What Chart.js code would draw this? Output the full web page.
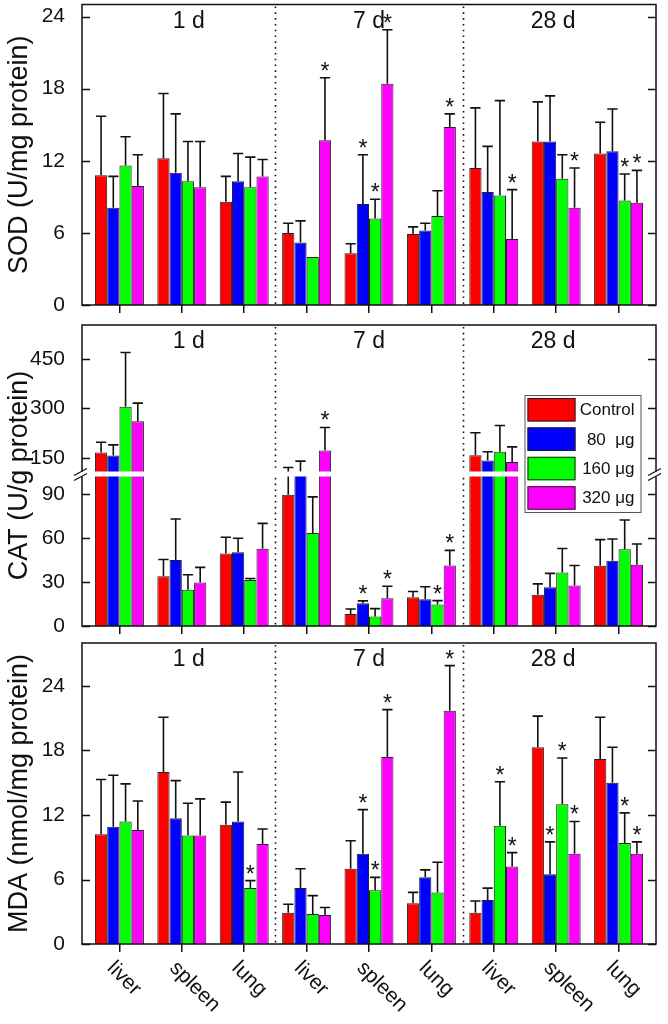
<!DOCTYPE html>
<html>
<head>
<meta charset="utf-8">
<title>SOD, CAT and MDA in liver, spleen and lung</title>
<script src="https://cdn.jsdelivr.net/npm/chart.js@4.4.1/dist/chart.umd.min.js"></script>
<style>
  html, body { margin: 0; padding: 0; background: #fff; }
  #wrap { position: relative; width: 668px; height: 1024px; overflow: hidden; }
  #wrap canvas { position: absolute; left: 0; }
</style>
</head>
<body>
<div id="wrap">
  <canvas id="sod" width="668" height="325" style="top:-10px"></canvas>
  <canvas id="cat" width="668" height="326" style="top:310px"></canvas>
  <canvas id="mda" width="668" height="396" style="top:628px"></canvas>
</div>
<script>
'use strict';

// ---- data ----
const CATEGORIES = ['liver', 'spleen', 'lung', 'liver', 'spleen', 'lung', 'liver', 'spleen', 'lung'];
const PERIODS = ['1 d', '7 d', '28 d'];
const SERIES = ['Control', '80  \u03bcg', '160 \u03bcg', '320 \u03bcg'];

// SOD (U/mg protein): means and upper error (SD) per series
const SOD_CONTROL = [10.8, 12.2, 8.6, 6.0, 4.3, 5.9, 11.4, 13.6, 12.6];
const SOD_80 = [8.1, 11.0, 10.3, 5.2, 8.4, 6.2, 9.4, 13.6, 12.8];
const SOD_160 = [11.6, 10.3, 9.8, 4.0, 7.2, 7.4, 9.1, 10.5, 8.7];
const SOD_320 = [9.9, 9.8, 10.7, 13.7, 18.4, 14.8, 5.5, 8.1, 8.5];
const SOD_ERR_CONTROL = [4.9, 5.4, 2.1, 0.8, 0.8, 0.6, 5.0, 3.3, 2.6];
const SOD_ERR_80 = [2.6, 4.9, 2.3, 1.8, 4.1, 0.6, 3.8, 3.8, 3.5];
const SOD_ERR_160 = [2.4, 3.3, 2.5, 0, 1.6, 2.1, 7.9, 2.0, 2.2];
const SOD_ERR_320 = [2.6, 3.8, 1.4, 5.2, 4.5, 1.1, 4.1, 3.3, 2.7];
const SOD_SIG_CONTROL = [0, 0, 0, 0, 0, 0, 0, 0, 0];
const SOD_SIG_80 = [0, 0, 0, 0, 1, 0, 0, 0, 0];
const SOD_SIG_160 = [0, 0, 0, 0, 1, 0, 0, 0, 1];
const SOD_SIG_320 = [0, 0, 0, 1, 1, 1, 1, 1, 1];

// CAT (U/g protein)
const CAT_CONTROL = [167, 33.9, 49.4, 89.3, 8.2, 19.6, 159, 21.2, 41.0];
const CAT_80 = [158, 44.9, 50.3, 108.7, 15.5, 18.2, 143, 26.4, 44.4];
const CAT_160 = [305, 24.6, 31.4, 63.3, 6.4, 14.6, 169, 36.4, 52.2];
const CAT_320 = [261, 29.6, 52.6, 173, 18.9, 41.2, 138, 27.6, 41.7];
const CAT_ERR_CONTROL = [31, 11.4, 11.0, 32.5, 3.4, 3.9, 67.5, 7.5, 17.8];
const CAT_ERR_80 = [32, 28.0, 9.4, 32.3, 1.6, 8.5, 26, 9.4, 14.8];
const CAT_ERR_160 = [164, 10.3, 0.9, 24.6, 5.4, 2.7, 79.7, 16.4, 20.0];
const CAT_ERR_320 = [55, 10.3, 17.3, 69.6, 8.2, 10.3, 46, 13.6, 14.1];
const CAT_SIG_CONTROL = [0, 0, 0, 0, 0, 0, 0, 0, 0];
const CAT_SIG_80 = [0, 0, 0, 0, 1, 0, 0, 0, 0];
const CAT_SIG_160 = [0, 0, 0, 0, 0, 1, 0, 0, 0];
const CAT_SIG_320 = [0, 0, 0, 1, 1, 1, 0, 0, 0];

// MDA (nmol/mg protein)
const MDA_CONTROL = [10.2, 16.0, 11.1, 2.9, 7.0, 3.8, 2.9, 18.3, 17.2];
const MDA_80 = [10.9, 11.7, 11.4, 5.2, 8.4, 6.2, 4.1, 6.5, 15.0];
const MDA_160 = [11.4, 10.1, 5.2, 2.8, 5.0, 4.8, 11.0, 13.0, 9.4];
const MDA_320 = [10.6, 10.1, 9.3, 2.7, 17.4, 21.7, 7.2, 8.4, 8.4];
const MDA_ERR_CONTROL = [5.1, 5.1, 2.1, 0.8, 2.6, 1.0, 1.1, 2.9, 3.9];
const MDA_ERR_80 = [4.8, 3.5, 4.6, 1.8, 4.1, 0.7, 1.1, 3.0, 3.3];
const MDA_ERR_160 = [3.5, 3.0, 0.7, 1.7, 1.2, 2.8, 4.1, 4.3, 2.8];
const MDA_ERR_320 = [2.7, 3.4, 1.4, 0.7, 4.4, 4.2, 1.3, 3.0, 1.1];
const MDA_SIG_CONTROL = [0, 0, 0, 0, 0, 0, 0, 0, 0];
const MDA_SIG_80 = [0, 0, 0, 0, 1, 0, 0, 1, 0];
const MDA_SIG_160 = [0, 0, 1, 0, 1, 0, 1, 1, 1];
const MDA_SIG_320 = [0, 0, 0, 0, 1, 1, 1, 1, 1];

// axis ticks
const SOD_TICKS = [0, 6, 12, 18, 24];
const CAT_TICKS_LOW = [0, 30, 60, 90];
const CAT_TICKS_HIGH = [150, 300, 450];
const MDA_TICKS = [0, 6, 12, 18, 24];

// ---- styling ----
const FONT = "'Liberation Sans', Arial, Helvetica, sans-serif";
const INK = '#111111';
const COLORS = ['#FF0000', '#0000FF', '#00FF00', '#FF00FF'];
const BAR_EDGE = '#222222';
const Y_AXIS_WIDTH = 82;

/**
 * Draws everything Chart.js has no built-in for: the box frame, inward ticks,
 * error bars, significance stars, period separators, axis break and legend.
 */
const panelDecor = {
  id: 'panelDecor',
  afterDraw(chart, args, opts) {
    const { ctx, chartArea: area } = chart;
    const xs = chart.scales.x;
    // y segments sorted from the lowest value range up
    const yAxes = opts.axisIds.map((id) => chart.scales[id]).sort((a, b) => a.min - b.min);

    // value -> pixel across a (possibly) broken axis
    const toPixel = (v) => {
      const s = yAxes.find((a) => v <= a.max) || yAxes[yAxes.length - 1];
      return s.getPixelForValue(v);
    };

    ctx.save();
    ctx.strokeStyle = INK;
    ctx.fillStyle = INK;

    // error bars and stars
    chart.data.datasets.forEach((ds, di) => {
      if (!ds.errors) return;
      const meta = chart.getDatasetMeta(di);
      meta.data.forEach((el, i) => {
        const mean = ds.data[i].y;
        const err = ds.errors[i];
        let top = toPixel(mean);
        if (err > 0) {
          top = toPixel(mean + err);
          const half = el.width * 0.42;
          ctx.lineWidth = 1.6;
          ctx.beginPath();
          ctx.moveTo(el.x, toPixel(mean));
          ctx.lineTo(el.x, top);
          ctx.moveTo(el.x - half, top);
          ctx.lineTo(el.x + half, top);
          ctx.stroke();
        }
        if (ds.sig && ds.sig[i]) {
          ctx.font = `23px ${FONT}`;
          ctx.textAlign = 'center';
          ctx.textBaseline = 'alphabetic';
          ctx.fillText('*', el.x, top + 1);
        }
      });
    });

    // dotted separators between periods
    const groupSize = CATEGORIES.length / PERIODS.length;
    ctx.lineWidth = 1.6;
    ctx.setLineDash([1.6, 4.2]);
    for (let g = 1; g < PERIODS.length; g++) {
      const x = Math.round(xs.getPixelForValue(g * groupSize - 0.5)) + 0.5;
      ctx.beginPath();
      ctx.moveTo(x, area.top + 2);
      ctx.lineTo(x, area.bottom);
      ctx.stroke();
    }
    ctx.setLineDash([]);

    // period labels
    ctx.font = `23px ${FONT}`;
    ctx.textAlign = 'center';
    ctx.textBaseline = 'middle';
    PERIODS.forEach((p, g) => {
      const x = xs.getPixelForValue(g * groupSize + (groupSize - 1) / 2) + opts.periodDx[g];
      ctx.fillText(p, x, area.top + 17);
    });

    // frame
    ctx.lineWidth = 1.5;
    ctx.strokeRect(area.left, area.top, area.width, area.height);

    // inward ticks, left and right
    yAxes.forEach((s) => {
      s.ticks.forEach((t) => {
        const y = Math.round(s.getPixelForValue(t.value)) + 0.5;
        ctx.beginPath();
        ctx.moveTo(area.left, y);
        ctx.lineTo(area.left + 8, y);
        ctx.moveTo(area.right - 8, y);
        ctx.lineTo(area.right, y);
        ctx.stroke();
      });
    });

    // axis break
    if (yAxes.length > 1) {
      const by = yAxes[0].top;
      ctx.fillStyle = '#ffffff';
      ctx.fillRect(area.left - 2, by - 2.5, area.width + 4, 5);
      ctx.lineWidth = 1.3;
      [area.left, area.right].forEach((x) => {
        [-2.5, 2.5].forEach((d) => {
          ctx.beginPath();
          ctx.moveTo(x - 8, by + d + 4);
          ctx.lineTo(x + 5, by + d - 3);
          ctx.stroke();
        });
      });
      ctx.fillStyle = INK;
    }

    // legend
    if (opts.legend) {
      const bx = area.right - 131.5;
      const by = area.top + 70;
      const bw = 116;
      const bh = 117;
      ctx.fillStyle = '#ffffff';
      ctx.fillRect(bx, by, bw, bh);
      ctx.strokeStyle = '#555555';
      ctx.lineWidth = 1;
      ctx.strokeRect(bx + 0.5, by + 0.5, bw, bh);
      ctx.font = `17px ${FONT}`;
      ctx.textAlign = 'right';
      ctx.textBaseline = 'middle';
      SERIES.forEach((name, k) => {
        const sy = by + 3 + k * 29.4;
        ctx.fillStyle = COLORS[k];
        ctx.fillRect(bx + 3, sy, 48, 23.5);
        ctx.strokeStyle = BAR_EDGE;
        ctx.strokeRect(bx + 3.5, sy + 0.5, 47, 22.5);
        ctx.fillStyle = INK;
        ctx.fillText(name, bx + bw - 6, sy + 12.5);
      });
    }

    // y axis title
    ctx.fillStyle = INK;
    ctx.font = `27px ${FONT}`;
    ctx.textAlign = 'center';
    ctx.textBaseline = 'middle';
    ctx.save();
    ctx.translate(20, (area.top + area.bottom) / 2);
    ctx.rotate(-Math.PI / 2);
    ctx.fillText(opts.title, 0, 0);
    ctx.restore();

    // slanted category labels
    if (opts.categoryLabels) {
      ctx.font = `21px ${FONT}`;
      ctx.textAlign = 'left';
      ctx.textBaseline = 'middle';
      CATEGORIES.forEach((c, i) => {
        ctx.save();
        ctx.translate(xs.getPixelForValue(i) - 9, area.bottom + 21);
        ctx.rotate(Math.PI / 4);
        ctx.fillText(c, 0, 0);
        ctx.restore();
      });
    }

    ctx.restore();
  },
};

/**
 * Build one y axis (optionally part of a stacked, broken axis).
 */
function yScaleOptions(axis) {
  return {
    type: 'linear',
    position: 'left',
    stack: axis.stack,
    stackWeight: axis.weight,
    min: axis.min,
    max: axis.max,
    grid: { display: false },
    border: { display: false },
    ticks: { color: INK, font: { family: FONT, size: 21 }, padding: 9, autoSkip: false },
    afterBuildTicks: (scale) => {
      scale.ticks = axis.ticks.map((v) => ({ value: v }));
    },
    afterFit: (scale) => {
      scale.width = Y_AXIS_WIDTH;
      scale.paddingTop = 0;
      scale.paddingBottom = 0;
    },
  };
}

/**
 * Create one panel of grouped bars.
 */
function makePanel(canvasId, panel) {
  const datasets = [];
  panel.axes.forEach((axis) => {
    SERIES.forEach((name, k) => {
      datasets.push({
        label: name,
        data: panel.means[k].map((v, i) => ({ x: i, y: v })),
        yAxisID: axis.id,
        stack: 's' + k,
        backgroundColor: COLORS[k],
        borderColor: BAR_EDGE,
        borderWidth: 1,
        barPercentage: 1,
        categoryPercentage: 0.785,
        clip: 0,
        errors: axis.main ? panel.errors[k] : null,
        sig: axis.main ? panel.sig[k] : null,
      });
    });
  });

  const scales = {
    x: {
      type: 'linear',
      offset: false,
      min: -0.6,
      max: 8.6,
      grid: {
        display: true,
        offset: false,
        drawOnChartArea: false,
        drawTicks: true,
        tickLength: 8,
        color: INK,
        lineWidth: 1.5,
      },
      border: { display: false },
      ticks: { display: false, autoSkip: false },
      afterBuildTicks: (scale) => {
        scale.ticks = CATEGORIES.map((_, i) => ({ value: i }));
      },
      afterFit: (scale) => {
        scale.height = panel.xHeight;
        scale.paddingLeft = 0;
        scale.paddingRight = 0;
      },
    },
  };
  panel.axes.forEach((axis) => {
    scales[axis.id] = yScaleOptions(axis);
  });

  return new Chart(document.getElementById(canvasId), {
    type: 'bar',
    data: { datasets },
    options: {
      responsive: false,
      animation: false,
      events: [],
      layout: { padding: { top: panel.padTop, right: 12, bottom: 0, left: 0 } },
      scales,
      plugins: {
        legend: { display: false },
        tooltip: { enabled: false },
        panelDecor: {
          axisIds: panel.axes.map((a) => a.id),
          title: panel.title,
          legend: !!panel.legend,
          categoryLabels: !!panel.categoryLabels,
          periodDx: [7, 0, -3],
        },
      },
    },
    plugins: [panelDecor],
  });
}

makePanel('sod', {
  title: 'SOD (U/mg protein)',
  padTop: 14.5,
  xHeight: 10,
  axes: [{ id: 'y', min: 0, max: 25, ticks: SOD_TICKS, main: true }],
  means: [SOD_CONTROL, SOD_80, SOD_160, SOD_320],
  errors: [SOD_ERR_CONTROL, SOD_ERR_80, SOD_ERR_160, SOD_ERR_320],
  sig: [SOD_SIG_CONTROL, SOD_SIG_80, SOD_SIG_160, SOD_SIG_320],
});

// broken axis: the segment listed later in the stack is placed on top
makePanel('cat', {
  title: 'CAT (U/g protein)',
  padTop: 15,
  xHeight: 10,
  legend: true,
  axes: [
    { id: 'yLow', stack: 'cat', weight: 152, min: 0, max: 103.5, ticks: CAT_TICKS_LOW, main: true },
    { id: 'yHigh', stack: 'cat', weight: 149, min: 102, max: 552, ticks: CAT_TICKS_HIGH, main: false },
  ],
  means: [CAT_CONTROL, CAT_80, CAT_160, CAT_320],
  errors: [CAT_ERR_CONTROL, CAT_ERR_80, CAT_ERR_160, CAT_ERR_320],
  sig: [CAT_SIG_CONTROL, CAT_SIG_80, CAT_SIG_160, CAT_SIG_320],
});

makePanel('mda', {
  title: 'MDA (nmol/mg protein)',
  padTop: 15,
  xHeight: 80,
  categoryLabels: true,
  axes: [{ id: 'y', min: 0, max: 28, ticks: MDA_TICKS, main: true }],
  means: [MDA_CONTROL, MDA_80, MDA_160, MDA_320],
  errors: [MDA_ERR_CONTROL, MDA_ERR_80, MDA_ERR_160, MDA_ERR_320],
  sig: [MDA_SIG_CONTROL, MDA_SIG_80, MDA_SIG_160, MDA_SIG_320],
});
</script>
</body>
</html>
